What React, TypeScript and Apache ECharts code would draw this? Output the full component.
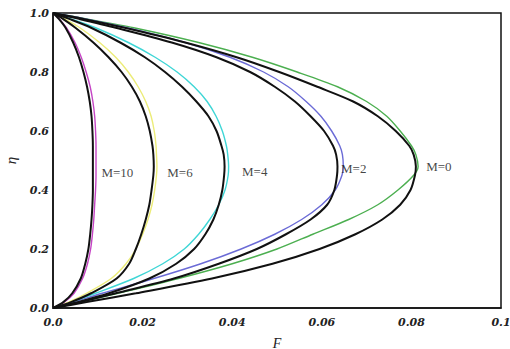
import React, { useEffect, useRef } from "react";
import * as echarts from "echarts";

// eta levels (vertical coordinate) shared by all curves
const etaLevels = [0, 0.02, 0.05, 0.1, 0.15, 0.2, 0.25, 0.3, 0.35, 0.4, 0.45, 0.48, 0.52, 0.55, 0.6, 0.65, 0.7, 0.75, 0.8, 0.85, 0.9, 0.95, 0.98, 1.0];

// F values read at each eta level
const fM0Green = [0, 0.006, 0.0145, 0.028, 0.04, 0.05, 0.058, 0.066, 0.0725, 0.077, 0.0805, 0.0815, 0.081, 0.08, 0.0775, 0.0745, 0.07, 0.0635, 0.0545, 0.0445, 0.0325, 0.018, 0.0075, 0];
const fM0Black = [0, 0.0075, 0.0185, 0.0355, 0.049, 0.0595, 0.0675, 0.0735, 0.0775, 0.0798, 0.0808, 0.081, 0.0805, 0.0795, 0.0765, 0.0725, 0.067, 0.059, 0.0505, 0.041, 0.0295, 0.016, 0.0068, 0];
const fM2Blue = [0, 0.0045, 0.011, 0.0225, 0.033, 0.042, 0.0495, 0.0555, 0.06, 0.063, 0.0645, 0.0648, 0.0646, 0.064, 0.0622, 0.0598, 0.0565, 0.0525, 0.047, 0.0395, 0.0295, 0.0165, 0.0072, 0];
const fM2Black = [0, 0.006, 0.014, 0.027, 0.037, 0.0455, 0.052, 0.0575, 0.0612, 0.0628, 0.0634, 0.0635, 0.0632, 0.0625, 0.0605, 0.0575, 0.054, 0.0495, 0.044, 0.0365, 0.0265, 0.014, 0.0058, 0];
const fM4Cyan = [0, 0.004, 0.0095, 0.018, 0.0245, 0.0293, 0.0325, 0.035, 0.037, 0.0384, 0.0391, 0.0392, 0.039, 0.0387, 0.0378, 0.0364, 0.0344, 0.0315, 0.0277, 0.0228, 0.0168, 0.0095, 0.004, 0];
const fM4Black = [0, 0.0055, 0.0125, 0.0215, 0.0275, 0.0315, 0.034, 0.0358, 0.037, 0.0378, 0.0382, 0.0383, 0.0381, 0.0376, 0.0365, 0.0347, 0.032, 0.0288, 0.025, 0.0205, 0.015, 0.0085, 0.0036, 0];
const fM6Yellow = [0, 0.0035, 0.0075, 0.013, 0.0163, 0.0185, 0.02, 0.0212, 0.0221, 0.0227, 0.0231, 0.0232, 0.0231, 0.023, 0.0226, 0.0219, 0.0207, 0.019, 0.0168, 0.014, 0.0104, 0.006, 0.0026, 0];
const fM6Black = [0, 0.004, 0.0085, 0.0142, 0.017, 0.0185, 0.0197, 0.0207, 0.0215, 0.022, 0.0224, 0.0225, 0.0224, 0.0222, 0.0216, 0.0207, 0.0194, 0.0176, 0.0153, 0.0124, 0.009, 0.005, 0.0022, 0];
const fM10Magenta = [0, 0.0025, 0.0047, 0.0066, 0.0077, 0.0084, 0.0088, 0.0091, 0.0093, 0.0095, 0.0096, 0.0096, 0.0096, 0.0096, 0.0095, 0.0093, 0.0089, 0.0083, 0.0074, 0.0063, 0.0049, 0.003, 0.0014, 0];
const fM10Black = [0, 0.0023, 0.0043, 0.0062, 0.0072, 0.0079, 0.0083, 0.0086, 0.0088, 0.0089, 0.0089, 0.0089, 0.0089, 0.0089, 0.0088, 0.0086, 0.0082, 0.0076, 0.0068, 0.0058, 0.0045, 0.0028, 0.0013, 0];

const labelNames = ["M=10", "M=6", "M=4", "M=2", "M=0"];
const labelF = [0.0108, 0.0255, 0.0422, 0.0643, 0.0833];
const labelEta = [0.46, 0.46, 0.464, 0.474, 0.48];

const xTicks = [0, 0.02, 0.04, 0.06, 0.08, 0.1];

const pairs = (fs: number[]) => fs.map((f, i) => [f, etaLevels[i]]);

export default function App() {
  const ref = useRef<HTMLDivElement>(null);
  useEffect(() => {
    if (!ref.current) return;
    const chart = echarts.init(ref.current, undefined, { renderer: "svg" });
    const colored = [
      { d: fM0Green, c: "#4caf50" },
      { d: fM2Blue, c: "#6b6bd6" },
      { d: fM4Cyan, c: "#3fd6d6" },
      { d: fM6Yellow, c: "#ecec78" },
      { d: fM10Magenta, c: "#c545c5" },
    ];
    const blacks = [fM0Black, fM2Black, fM4Black, fM6Black, fM10Black];
    const series: any[] = [];
    colored.forEach((s) =>
      series.push({
        type: "line",
        data: pairs(s.d),
        smooth: 0.3,
        showSymbol: false,
        lineStyle: { color: s.c, width: 1.4 },
        z: 2,
      })
    );
    blacks.forEach((d) =>
      series.push({
        type: "line",
        data: pairs(d),
        smooth: 0.3,
        showSymbol: false,
        lineStyle: { color: "#111", width: 2 },
        z: 3,
      })
    );
    series.push({
      type: "scatter",
      symbolSize: 0,
      data: labelNames.map((n, i) => ({ name: n, value: [labelF[i], labelEta[i]] })),
      label: {
        show: true,
        position: "right",
        distance: 0,
        formatter: (p: any) => p.name,
        color: "#111",
        fontFamily: "Liberation Serif",
        fontSize: 13,
      },
      z: 4,
    });
    const tickFont = {
      fontFamily: "DejaVu Serif",
      fontStyle: "italic",
      fontWeight: "bold",
      fontSize: 11,
      color: "#222",
    };
    chart.setOption({
      animation: false,
      grid: {
        left: 53,
        right: 9,
        top: 13,
        bottom: 41,
        show: true,
        borderColor: "#111",
        borderWidth: 1.5,
        containLabel: false,
        outerBoundsMode: "none",
      },
      xAxis: {
        type: "value",
        min: 0,
        max: 0.1,
        interval: 0.02,
        name: "F",
        nameLocation: "middle",
        nameGap: 28,
        nameTextStyle: { fontFamily: "Liberation Serif", fontStyle: "italic", fontSize: 14, color: "#222" },
        axisLine: { show: true, lineStyle: { color: "#111", width: 1.5 } },
        axisTick: { show: false },
        splitLine: { show: false },
        axisLabel: {
          margin: 9,
          ...tickFont,
          formatter: (v: number) => {
            const i = xTicks.findIndex((t) => Math.abs(t - v) < 1e-9);
            if (i === 0) return "0.0";
            if (i === xTicks.length - 1) return "0.1";
            return v.toFixed(2);
          },
        },
      },
      yAxis: {
        type: "value",
        min: 0,
        max: 1,
        interval: 0.2,
        name: "η",
        nameLocation: "middle",
        nameGap: 34,
        nameRotate: 90,
        nameTextStyle: { fontFamily: "Liberation Serif", fontStyle: "italic", fontSize: 15, color: "#222" },
        axisLine: { show: true, lineStyle: { color: "#111", width: 1.5 } },
        axisTick: { show: false },
        splitLine: { show: false },
        axisLabel: {
          margin: 4,
          ...tickFont,
          formatter: (v: number) => v.toFixed(1),
        },
      },
      series,
    });
    return () => chart.dispose();
  }, []);
  return (
    <div
      ref={ref}
      style={{ position: "fixed", left: 0, top: 0, width: 510, height: 349, background: "#fff" }}
    />
  );
}
